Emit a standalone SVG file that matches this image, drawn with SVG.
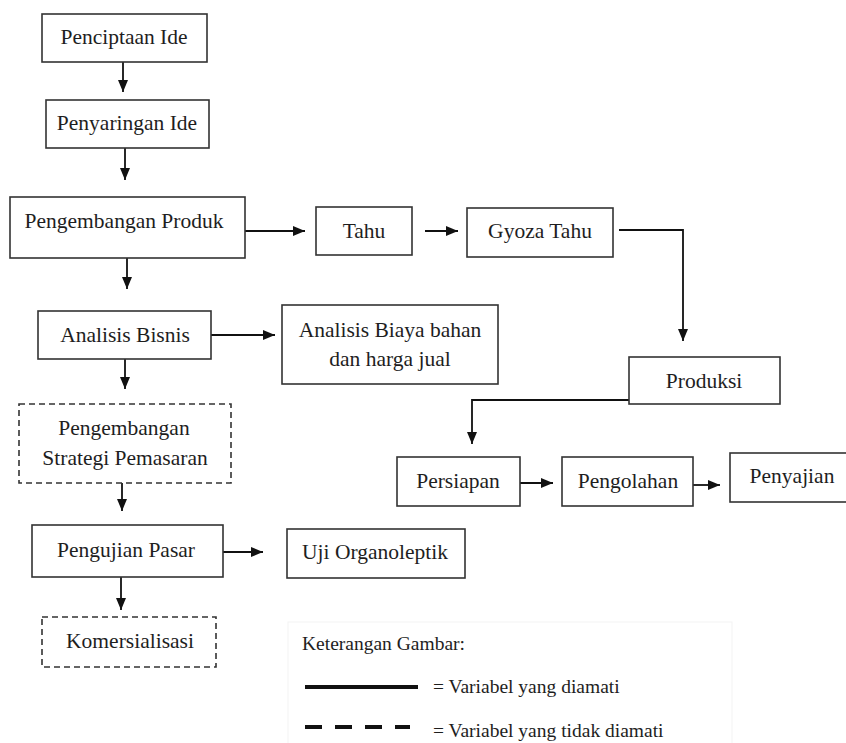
<svg xmlns="http://www.w3.org/2000/svg" width="846" height="743" viewBox="0 0 846 743">
<style>
.box{fill:#fff;stroke:#333;stroke-width:1.6}
.dash{fill:#fff;stroke:#333;stroke-width:1.6;stroke-dasharray:6 4}
text{font-family:'Liberation Serif',Tinos,'Times New Roman','DejaVu Serif',serif;fill:#1e1e1e}
.t{font-size:21.5px;text-anchor:middle}
.lt{font-size:19.5px}
.c{fill:none;stroke:#111;stroke-width:1.8}
</style>
<defs>
<marker id="ah" markerUnits="userSpaceOnUse" markerWidth="12" markerHeight="10" refX="12" refY="5" orient="auto">
<path d="M0,0 L12,5 L0,10 z" fill="#111"/>
</marker>
</defs>
<rect width="846" height="743" fill="#fff"/>
<g id="legend-frame"><rect x="288" y="622" width="444" height="130" fill="none" stroke="#f3f3f3" stroke-width="1"/></g>
<g id="connectors">
<path class="c" d="M123,62 V92" marker-end="url(#ah)"/>
<path class="c" d="M125,148 V180" marker-end="url(#ah)"/>
<path class="c" d="M245,231 H305" marker-end="url(#ah)"/>
<path class="c" d="M425,231 H458" marker-end="url(#ah)"/>
<path class="c" d="M619,230 H683 V341" marker-end="url(#ah)"/>
<path class="c" d="M127,258 V289" marker-end="url(#ah)"/>
<path class="c" d="M211,335 H275" marker-end="url(#ah)"/>
<path class="c" d="M125,359 V389" marker-end="url(#ah)"/>
<path class="c" d="M122,483 V511" marker-end="url(#ah)"/>
<path class="c" d="M223,552 H263" marker-end="url(#ah)"/>
<path class="c" d="M121,577 V610" marker-end="url(#ah)"/>
<path class="c" d="M629,400 H472 V444" marker-end="url(#ah)"/>
<path class="c" d="M520,483 H553" marker-end="url(#ah)"/>
<path class="c" d="M693,485 H720" marker-end="url(#ah)"/>
</g>
<g id="penciptaan-ide"><rect class="box" x="42" y="14" width="165" height="48"/><text class="t" x="124" y="44" font-family="Liberation Serif">Penciptaan Ide</text></g>
<g id="penyaringan-ide"><rect class="box" x="46" y="100" width="163" height="48"/><text class="t" x="127" y="130">Penyaringan Ide</text></g>
<g id="pengembangan-produk"><rect class="box" x="10" y="197" width="235" height="61"/><text class="t" x="124" y="228">Pengembangan Produk</text></g>
<g id="tahu"><rect class="box" x="316" y="207" width="96" height="48"/><text class="t" x="364" y="238">Tahu</text></g>
<g id="gyoza-tahu"><rect class="box" x="467" y="208" width="146" height="49"/><text class="t" x="540" y="238">Gyoza Tahu</text></g>
<g id="analisis-bisnis"><rect class="box" x="38" y="311" width="173" height="48"/><text class="t" x="125" y="342">Analisis Bisnis</text></g>
<g id="analisis-biaya"><rect class="box" x="282" y="305" width="216" height="79"/><text class="t" x="390" y="337">Analisis Biaya bahan</text><text class="t" x="390" y="366">dan harga jual</text></g>
<g id="produksi"><rect class="box" x="629" y="357" width="151" height="47"/><text class="t" x="704" y="388">Produksi</text></g>
<g id="pengembangan-strategi"><rect class="dash" x="19" y="404" width="212" height="79"/><text class="t" x="124" y="435">Pengembangan</text><text class="t" x="125" y="465">Strategi Pemasaran</text></g>
<g id="persiapan"><rect class="box" x="397" y="457" width="123" height="49"/><text class="t" x="458" y="488">Persiapan</text></g>
<g id="pengolahan"><rect class="box" x="562" y="457" width="131" height="49"/><text class="t" x="628" y="488">Pengolahan</text></g>
<g id="penyajian"><rect class="box" x="730" y="453" width="130" height="49"/><text class="t" x="792" y="483">Penyajian</text></g>
<g id="pengujian-pasar"><rect class="box" x="32" y="525" width="191" height="52"/><text class="t" x="126" y="557">Pengujian Pasar</text></g>
<g id="uji-organoleptik"><rect class="box" x="287" y="529" width="178" height="49"/><text class="t" x="375" y="559">Uji Organoleptik</text></g>
<g id="komersialisasi"><rect class="dash" x="42" y="617" width="174" height="50"/><text class="t" x="130" y="648">Komersialisasi</text></g>
<g id="legend">
<text class="lt" x="302" y="650">Keterangan Gambar:</text>
<line x1="305" y1="687" x2="418" y2="687" stroke="#111" stroke-width="4"/>
<text class="lt" x="433" y="693">= Variabel yang diamati</text>
<line x1="305" y1="727" x2="410" y2="727" stroke="#111" stroke-width="4" stroke-dasharray="17 13"/>
<text class="lt" x="433" y="737">= Variabel yang tidak diamati</text>
</g>
</svg>
